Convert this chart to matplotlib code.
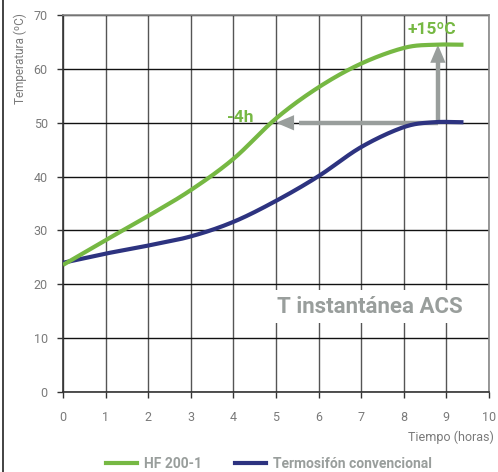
import matplotlib.pyplot as plt
import numpy as np
from matplotlib.lines import Line2D

plt.rcParams['font.family'] = ['Roboto', 'DejaVu Sans']

horas = [0, 1, 2, 3, 4, 5, 6, 7, 8, 8.7, 9.4]
hf200 = [23.6, 28.2, 32.7, 37.5, 43.3, 50.8, 56.6, 61.0, 63.9, 64.5, 64.5]
termosifon = [24.0, 25.7, 27.2, 28.9, 31.6, 35.5, 40.1, 45.5, 49.2, 50.1, 50.1]
xticks = list(range(0, 11))
yticks = list(range(0, 80, 10))

verde = '#76b843'
azul = '#2d3380'
gris = '#999e9c'
gris_txt = '#7a7a7a'

def suave(x, y):
    # smooth curve through the read points (Catmull-Rom)
    x = np.asarray(x, float); y = np.asarray(y, float)
    px = np.concatenate([[2*x[0]-x[1]], x, [2*x[-1]-x[-2]]])
    py = np.concatenate([[2*y[0]-y[1]], y, [2*y[-1]-y[-2]]])
    xs, ys = [], []
    for i in range(1, len(px)-2):
        t = np.linspace(0, 1, 30, endpoint=False)
        for arr, out in ((px, xs), (py, ys)):
            p0, p1, p2, p3 = arr[i-1], arr[i], arr[i+1], arr[i+2]
            out.extend(0.5*((2*p1) + (-p0+p2)*t + (2*p0-5*p1+4*p2-p3)*t**2 + (-p0+3*p1-3*p2+p3)*t**3))
    xs.append(x[-1]); ys.append(y[-1])
    return np.array(xs), np.array(ys)

fig = plt.figure(figsize=(4.98, 4.72), dpi=100)
ax = fig.add_axes([0.1265, 0.1695, 0.8555, 0.7985])

for v in xticks:
    ax.axvline(v, color='#555555', lw=1.0, zorder=1)
for v in yticks:
    ax.axhline(v, color='#111111', lw=1.0, zorder=1)

ax.set_xlim(0, 10)
ax.set_ylim(0, 70)
ax.set_xticks(xticks)
ax.set_yticks(yticks)
ax.tick_params(direction='out', length=4, width=1, colors='#333333', labelcolor=gris_txt, labelsize=9)
ax.tick_params(axis='x', pad=10)
ax.tick_params(axis='y', pad=7)
for s in ax.spines.values():
    s.set_color('#888888')
    s.set_linewidth(1.2)
ax.spines['left'].set_color('#333333')
ax.spines['bottom'].set_color('#333333')

fig.text(20/498, 1-13/472, 'Temperatura (ºC)', rotation=90, ha='center', va='top',
         color=gris_txt, fontsize=8.5)
ax.text(1.012, -0.12, 'Tiempo (horas)', transform=ax.transAxes, ha='right', va='center',
        color=gris_txt, fontsize=9)

x1, y1 = suave(horas, hf200)
x2, y2 = suave(horas, termosifon)
ax.plot(x2, y2, color=azul, lw=3, solid_capstyle='butt', zorder=4)
ax.plot(x1, y1, color=verde, lw=3, solid_capstyle='butt', zorder=4)

# arrows
ax.plot([8.8, 5.55], [50, 50], color=gris, lw=3.2, zorder=3, solid_capstyle='butt')
ax.annotate('', xy=(5.0, 50), xytext=(5.6, 50),
            arrowprops=dict(arrowstyle='-|>,head_length=1.3,head_width=0.55', color=gris, lw=0, shrinkA=0, shrinkB=0), zorder=3)
ax.plot([8.8, 8.8], [50, 61.2], color=gris, lw=3.2, zorder=3, solid_capstyle='butt')
ax.annotate('', xy=(8.8, 64.5), xytext=(8.8, 60.5),
            arrowprops=dict(arrowstyle='-|>,head_length=1.3,head_width=0.55', color=gris, lw=0, shrinkA=0, shrinkB=0), zorder=3)

ax.text(4.15, 51.0, '-4h', color=verde, fontsize=12.5, fontweight='bold', ha='center', va='center', zorder=5)
ax.text(8.65, 67.3, '+15ºC', color=verde, fontsize=12.5, fontweight='bold', ha='center', va='center', zorder=5)
ax.text(7.2, 15.8, 'T instantánea ACS', color=gris, fontsize=16, fontweight='bold', ha='center', va='center',
        zorder=5, bbox=dict(facecolor='white', edgecolor='none', pad=4))

handles = [Line2D([], [], color=verde, lw=3), Line2D([], [], color=azul, lw=3)]
leg = fig.legend(handles, ['HF 200-1', 'Termosifón convencional'], loc='center', bbox_to_anchor=(0.54, 0.018),
                 ncol=2, frameon=False, fontsize=10, handlelength=2.2, columnspacing=2.4, handletextpad=0.5)
for t in leg.get_texts():
    t.set_color(gris)
    t.set_fontweight('bold')

fig.add_artist(Line2D([0.006, 0.006], [0, 1], color='#222222', lw=1.2, transform=fig.transFigure))

plt.savefig('out.png', dpi=100)
